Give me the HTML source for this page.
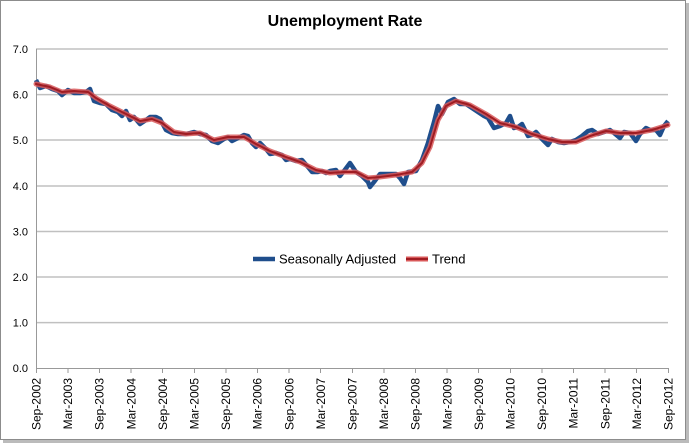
<!DOCTYPE html>
<html><head><meta charset="utf-8"><style>
body{margin:0;background:#fff;}
svg{display:block;font-family:"Liberation Sans",sans-serif;}
</style></head><body>
<svg width="690" height="444" viewBox="0 0 690 444">
<rect x="3" y="3" width="686" height="440" fill="#bbb"/>
<rect x="0.5" y="0.5" width="685" height="439" fill="#fff" stroke="#8c8c8c"/>
<text x="345" y="26" text-anchor="middle" font-size="16" font-weight="bold">Unemployment Rate</text>
<g stroke="#c0c0c0" stroke-width="1.5">
<line x1="36" y1="49" x2="668" y2="49"/><line x1="36" y1="94.6" x2="668" y2="94.6"/>
<line x1="36" y1="140" x2="668" y2="140"/><line x1="36" y1="186" x2="668" y2="186"/>
<line x1="36" y1="231.5" x2="668" y2="231.5"/><line x1="36" y1="277" x2="668" y2="277"/>
<line x1="36" y1="322.6" x2="668" y2="322.6"/>
</g>
<g stroke="#999" stroke-width="1"><line x1="36.5" y1="49" x2="36.5" y2="368"/><line x1="36" y1="368.5" x2="668" y2="368.5"/></g>
<g font-size="11" fill="#000" text-anchor="end">
<text x="28" y="53">7.0</text><text x="28" y="98.6">6.0</text><text x="28" y="144">5.0</text><text x="28" y="190">4.0</text><text x="28" y="235.5">3.0</text><text x="28" y="281">2.0</text><text x="28" y="326.6">1.0</text><text x="28" y="372">0.0</text>
</g>
<g stroke="#999">
<line x1="36.5" y1="368" x2="36.5" y2="373"/><line x1="68" y1="368" x2="68" y2="373"/><line x1="99.5" y1="368" x2="99.5" y2="373"/><line x1="131" y1="368" x2="131" y2="373"/><line x1="162.5" y1="368" x2="162.5" y2="373"/><line x1="194.5" y1="368" x2="194.5" y2="373"/><line x1="226" y1="368" x2="226" y2="373"/><line x1="257.5" y1="368" x2="257.5" y2="373"/><line x1="289" y1="368" x2="289" y2="373"/><line x1="320.5" y1="368" x2="320.5" y2="373"/><line x1="352.5" y1="368" x2="352.5" y2="373"/><line x1="384" y1="368" x2="384" y2="373"/><line x1="415.5" y1="368" x2="415.5" y2="373"/><line x1="447" y1="368" x2="447" y2="373"/><line x1="478.5" y1="368" x2="478.5" y2="373"/><line x1="510.5" y1="368" x2="510.5" y2="373"/><line x1="542" y1="368" x2="542" y2="373"/><line x1="573.5" y1="368" x2="573.5" y2="373"/><line x1="605" y1="368" x2="605" y2="373"/><line x1="636.5" y1="368" x2="636.5" y2="373"/><line x1="668.5" y1="368" x2="668.5" y2="373"/>
</g>
<g font-size="12" text-anchor="end">
<text transform="translate(40.5,378) rotate(-90)">Sep-2002</text>
<text transform="translate(72.1,378) rotate(-90)">Mar-2003</text>
<text transform="translate(103.7,378) rotate(-90)">Sep-2003</text>
<text transform="translate(135.3,378) rotate(-90)">Mar-2004</text>
<text transform="translate(166.9,378) rotate(-90)">Sep-2004</text>
<text transform="translate(198.5,378) rotate(-90)">Mar-2005</text>
<text transform="translate(230.1,378) rotate(-90)">Sep-2005</text>
<text transform="translate(261.7,378) rotate(-90)">Mar-2006</text>
<text transform="translate(293.3,378) rotate(-90)">Sep-2006</text>
<text transform="translate(324.9,378) rotate(-90)">Mar-2007</text>
<text transform="translate(356.5,378) rotate(-90)">Sep-2007</text>
<text transform="translate(388.1,378) rotate(-90)">Mar-2008</text>
<text transform="translate(419.7,378) rotate(-90)">Sep-2008</text>
<text transform="translate(451.3,378) rotate(-90)">Mar-2009</text>
<text transform="translate(482.9,378) rotate(-90)">Sep-2009</text>
<text transform="translate(514.5,378) rotate(-90)">Mar-2010</text>
<text transform="translate(546.1,378) rotate(-90)">Sep-2010</text>
<text transform="translate(577.7,378) rotate(-90)">Mar-2011</text>
<text transform="translate(609.3,378) rotate(-90)">Sep-2011</text>
<text transform="translate(640.9,378) rotate(-90)">Mar-2012</text>
<text transform="translate(672.5,378) rotate(-90)">Sep-2012</text>
</g>
<polyline fill="none" stroke="#1f4e8c" stroke-width="4.5" stroke-linejoin="round" points="36,80 40,88 46,86 52,89 58,91 62,95 68,90 74,93 80,93 86,92 90,89 94,101 100,103 106,104 112,110 118,112 122,116 126,111 130,120 134,117 140,124 146,120 150,117 156,117 160,119 166,130 172,133 178,134 186,134 194,132 200,134 206,135 212,141 218,143 224,139 228,137 232,141 238,138 244,135 248,136 252,143 256,147 260,143 266,149 270,154 276,153 282,155 286,160 290,159 296,161 302,160 308,167 312,172 318,172 322,171 326,173 330,171 336,170 340,176 344,171 350,163 356,172 362,176 368,182 370,187 374,182 380,174 386,174 396,174 400,178 404,184 408,172 416,171 422,160 428,143 434,122 438,106 442,114 448,102 454,99 460,104 466,104 472,108 478,112 484,116 488,118 494,128 500,126 506,123 510,116 514,128 518,127 522,124 528,136 532,135 536,132 542,139 548,145 552,139 558,142 564,143 570,142 576,140 582,136 588,131 592,130 598,134 604,132 610,130 614,133 620,138 624,132 630,133 636,141 640,134 646,128 650,130 656,130 660,135 664,126 668,121"/>
<g fill="none" stroke-linejoin="round" stroke-linecap="round">
<polyline stroke="#d9595a" stroke-opacity="0.85" stroke-width="5" points="36,84 50,87 62,92 74,91 88,92 96,98 110,106 126,114 140,121 152,119 162,123 174,132 186,134 200,133 214,140 228,137 244,137 256,144 270,151 286,157 300,162 316,170 330,173 344,172 356,172 368,178 380,177 396,175 412,172 422,163 430,147 438,120 446,106 456,101 470,105 486,114 500,123 516,127 532,134 548,139 562,142 576,142 590,136 606,131 620,133 636,133 652,130 668,125"/>
<polyline stroke="#a01c22" stroke-width="2" points="36,84 50,87 62,92 74,91 88,92 96,98 110,106 126,114 140,121 152,119 162,123 174,132 186,134 200,133 214,140 228,137 244,137 256,144 270,151 286,157 300,162 316,170 330,173 344,172 356,172 368,178 380,177 396,175 412,172 422,163 430,147 438,120 446,106 456,101 470,105 486,114 500,123 516,127 532,134 548,139 562,142 576,142 590,136 606,131 620,133 636,133 652,130 668,125"/>
</g>
<line x1="253" y1="259" x2="275" y2="259" stroke="#1f4e8c" stroke-width="4.5"/>
<text x="279" y="263.5" font-size="13">Seasonally Adjusted</text>
<line x1="406" y1="259" x2="428" y2="259" stroke="#d9595a" stroke-width="5"/>
<line x1="406" y1="259" x2="428" y2="259" stroke="#a01c22" stroke-width="2"/>
<text x="432" y="263.5" font-size="13">Trend</text>
</svg>
</body></html>
